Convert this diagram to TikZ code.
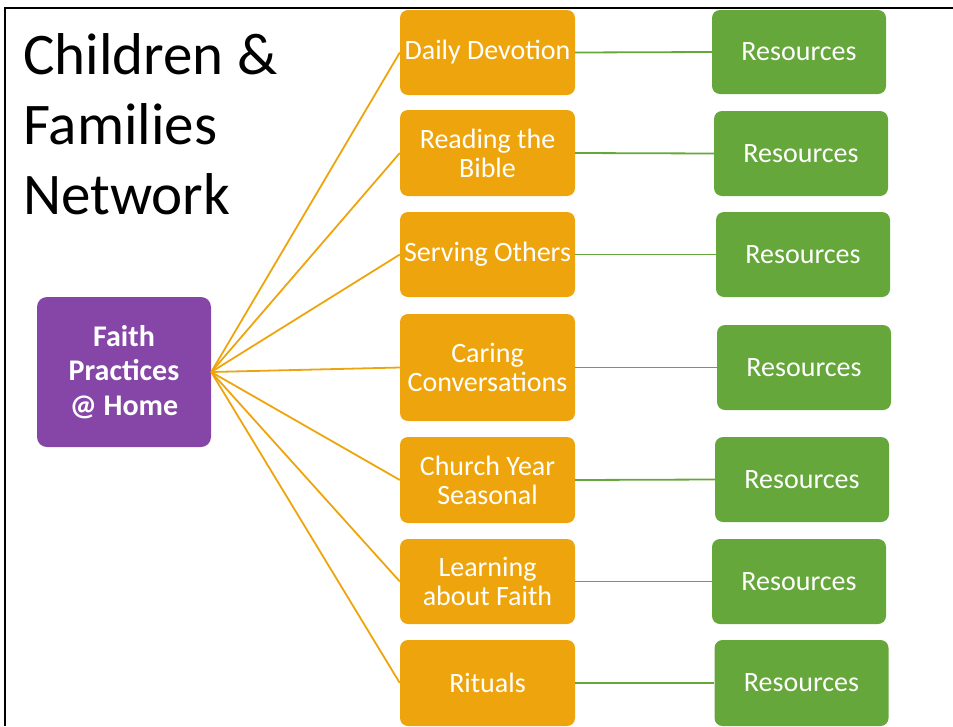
\documentclass[tikz,border=0pt]{standalone}
\usepackage{fontspec}
\setmainfont{Carlito}
\definecolor{orng}{RGB}{238,165,13}
\definecolor{grn}{RGB}{101,167,58}
\definecolor{purp}{RGB}{134,70,167}
\begin{document}
\begin{tikzpicture}[x=1pt,y=-1pt,
  obox/.style={fill=orng,rounded corners=8pt,minimum width=175pt,inner sep=0pt,align=center,text=white,font=\fontsize{28}{29}\selectfont},
  gbox/.style={fill=grn,rounded corners=8pt,minimum width=174pt,inner sep=0pt,align=center,text=white,font=\fontsize{28}{29}\selectfont},
  oline/.style={draw=orng,line width=1.8pt},
  gline/.style={draw=grn,line width=1.8pt}]
\useasboundingbox (0,0) rectangle (953,726);
\draw[line width=2pt] (5,726) -- (5,8) -- (953,8);
\node[anchor=north west,align=left,inner sep=0pt,font=\fontsize{59}{70}\selectfont] (title) at (23,33) {Children \&\\Families\\Network};
\node[fill=purp,rounded corners=10pt,minimum width=174pt,minimum height=150pt,inner sep=0pt,align=center,text=white,font=\fontsize{30}{34.5}\selectfont\bfseries] (fp) at (124,372) {Faith\\Practices\\@ Home};
\node[obox,minimum height=85pt] (o1) at (487.5,52.5) {Daily Devotion};
\node[obox,minimum height=86pt] (o2) at (487.5,153) {Reading the\\Bible};
\node[obox,minimum height=85pt] (o3) at (487.5,254.5) {Serving Others};
\node[obox,minimum height=107pt] (o4) at (487.5,367.5) {Caring\\Conversations};
\node[obox,minimum height=86pt] (o5) at (487.5,480) {Church Year\\Seasonal};
\node[obox,minimum height=85pt] (o6) at (487.5,581.5) {Learning\\about Faith};
\node[obox,minimum height=86pt] (o7) at (487.5,683) {Rituals};
\node[gbox,minimum height=84pt] (g1) at (799,52) {Resources};
\node[gbox,minimum height=85pt] (g2) at (801,153.5) {Resources};
\node[gbox,minimum height=85pt] (g3) at (803,254.5) {Resources};
\node[gbox,minimum height=85pt] (g4) at (804,367.5) {Resources};
\node[gbox,minimum height=85pt] (g5) at (802,479.5) {Resources};
\node[gbox,minimum height=85pt] (g6) at (799,581.5) {Resources};
\node[gbox,minimum height=86pt] (g7) at (801.5,683) {Resources};
\foreach \i in {1,...,7}{
  \draw[oline] (fp.east) -- (o\i.west);
  \draw[gline] (o\i.east) -- (g\i.west);
}
\end{tikzpicture}
\end{document}
